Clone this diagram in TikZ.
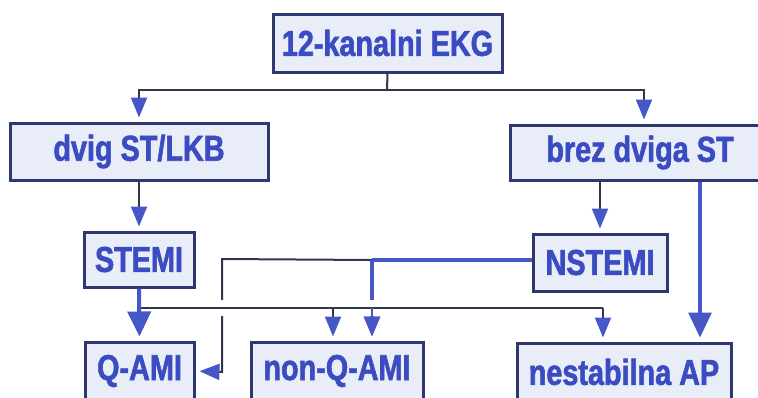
\documentclass[tikz,border=0pt]{standalone}
\usepackage{fontspec}
\setmainfont[FakeStretch=0.8, BoldFeatures={FakeBold=1.6}]{Liberation Sans}
\usetikzlibrary{arrows.meta}
\definecolor{boxfill}{HTML}{E8EDF7}
\definecolor{boxline}{HTML}{2E3770}
\definecolor{txtblue}{HTML}{3B4CC2}
\definecolor{arrblue}{HTML}{4658C8}
\definecolor{darkline}{HTML}{34364A}
\tikzset{
  box/.style={draw=boxline, line width=3pt, fill=boxfill, inner sep=0pt,
    text=txtblue, font=\fontsize{36}{38}\selectfont\bfseries},
  conn/.style={draw=darkline, line width=2pt},
  bconn/.style={draw=arrblue, line width=3.2pt},
  tipS/.style={-{Triangle[width=16pt,length=20pt,color=arrblue]}, shorten >=4pt},
  tipL/.style={-{Triangle[width=23pt,length=25pt,color=arrblue]}, shorten >=4pt},
}
\begin{document}
\begin{tikzpicture}[x=1pt,y=-1pt]
\useasboundingbox (0,0) rectangle (758,397);
\clip (0,0) rectangle (758,397);
\fill[white] (0,0) rectangle (758,397);
% boxes
\node[box, minimum width=229pt, minimum height=58pt] (ekg) at (387.5,43) {12-kanalni EKG};
\node[box, minimum width=258pt, minimum height=57pt] (dvig) at (139,151.5) {dvig ST/LKB};
\node[box, minimum width=260pt, minimum height=55pt] (brez) at (640,152.5) {brez dviga ST};
\node[box, minimum width=110pt, minimum height=55pt] (stemi) at (139,259.5) {STEMI};
\node[box, minimum width=134pt, minimum height=57pt] (nstemi) at (600,262.5) {NSTEMI};
\node[box, minimum width=109pt, minimum height=58pt] (qami) at (139.5,371) {Q-AMI};
\node[box, minimum width=172pt, minimum height=58pt] (nqami) at (337,371) {non-Q-AMI};
\node[box, minimum width=214pt, minimum height=58pt] (nap) at (624,372) {nestabilna AP};
% top split
\coordinate (j1) at (387,90);
\draw[conn] (ekg.south) -- (j1);
\draw[conn,tipS] (j1) -| (dvig.north);
\draw[conn,tipS] (j1) -| ([xshift=4pt]brez.north);
% second level
\draw[conn,tipS] (dvig.south) -- (stemi.north);
\draw[conn,tipS] ([xshift=-40pt]brez.south) -- ([xshift=0pt]nstemi.north);
\draw[bconn,tipL] ([xshift=60pt]brez.south) -- ([xshift=76pt]nap.north);
% NSTEMI branches
\coordinate (n1) at (372,260);
\coordinate (n2) at (222,259);
\draw[bconn] (nstemi.west |- n1) -- (n1);
\draw[conn,tipS] (n1) -- (n2) -- (222,372) -- (qami.east);
\draw[bconn,tipS] (n1) -- (nqami.north -| n1);
% STEMI horizontal
\coordinate (h0) at (139,308);
\coordinate (h1) at (603,308);
\draw[conn, preaction={draw=white, line width=16pt}] (h0) -- (h1);
\draw[conn] (h0) -- (h1);
\draw[conn,tipS] (h1) -- (nap.north -| h1);
\draw[conn,tipS] (333,308) -- (nqami.north -| 333,308);
\draw[bconn,line width=2.4pt,tipS] (372,308) -- (nqami.north -| n1);
\draw[bconn,line width=4pt,tipL] (stemi.south) -- (qami.north);
\end{tikzpicture}
\end{document}
